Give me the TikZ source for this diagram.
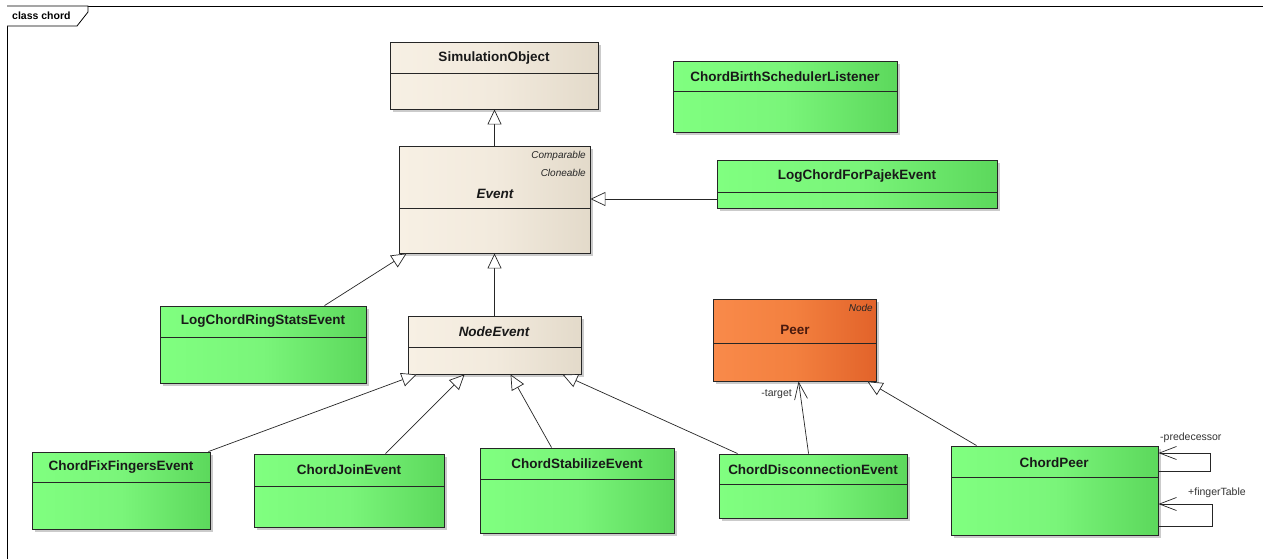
\documentclass[tikz,border=0pt]{standalone}
\usepackage{fontspec}
\setmainfont{Liberation Sans}
\usetikzlibrary{arrows.meta,shadows}
\definecolor{gL}{HTML}{80FF80}
\definecolor{gM}{HTML}{7AF57A}
\definecolor{gR}{HTML}{5CD85C}
\definecolor{bL}{HTML}{F7F0E4}
\definecolor{bM}{HTML}{F2EADD}
\definecolor{bR}{HTML}{E3DACA}
\definecolor{oL}{HTML}{F98A4A}
\definecolor{oM}{HTML}{F3803F}
\definecolor{oR}{HTML}{E2632A}
\definecolor{edge}{HTML}{262626}
\definecolor{peertext}{HTML}{4A1A0E}
\tikzset{
  classbox/.style={draw=edge, line width=0.9pt, inner sep=0pt,
    drop shadow={shadow xshift=3pt, shadow yshift=-3pt, fill=black!45, opacity=0.45}},
  greenbox/.style={classbox, left color=gL, right color=gR, middle color=gM},
  beigebox/.style={classbox, left color=bL, right color=bR, middle color=bM},
  orangebox/.style={classbox, left color=oL, right color=oR, middle color=oM},
  sepline/.style={draw=edge, line width=0.8pt},
  titletext/.style={font=\fontsize{13.5}{16}\selectfont\bfseries, text=black!90, inner sep=0pt},
  ititletext/.style={font=\fontsize{13.5}{16}\selectfont\bfseries\itshape, text=black!90, inner sep=0pt},
  stereo/.style={font=\fontsize{10}{12}\selectfont\itshape, text=black!85, inner sep=0pt, anchor=east},
  roletext/.style={font=\fontsize{10.5}{12}\selectfont, text=black!80, inner sep=0pt},
  gen/.style={draw=black!85, line width=0.7pt, -{Triangle[length=15pt,width=14pt,fill=white,line width=0.7pt]}},
  assoc/.style={draw=black!85, line width=0.7pt, -{Straight Barb[length=17pt,width=13pt,line width=0.7pt]}},
  frameline/.style={draw=black, line width=1pt},
}
\newcommand{\umlbox}[7]{%
  \node[#7, minimum width={(#4-#2)*1pt}, minimum height={(#5-#3)*1pt}] (#1) at ({(#2+#4)/2},{(#3+#5)/2}) {};
  \draw[sepline] (#2,#6) -- (#4,#6);
}
\begin{document}
\begin{tikzpicture}[x=1pt,y=-1pt]
\useasboundingbox (0,0) rectangle (1263,558);
\fill[white] (0,0) rectangle (1263,558);
% frame
\draw[frameline] (7,560) -- (7,6) -- (1265,6);
\draw[frameline, line width=0.8pt, fill=white] (7,6) -- (88,6) -- (88,12) -- (77,26) -- (7,26);
\node[font=\fontsize{10.5}{12}\selectfont\bfseries, anchor=west, inner sep=0pt] (framelabel) at (12,16) {class chord};

% classes
\umlbox{simobj}{390}{42}{598}{109}{73}{beigebox}
\node[titletext] (simobj-t) at (494,58) {SimulationObject};

\umlbox{event}{399}{146}{590}{253}{208}{beigebox}
\node[stereo] (event-s1) at (586,156) {Comparable};
\node[stereo] (event-s2) at (586,173) {Cloneable};
\node[ititletext] (event-t) at (495,194) {Event};

\umlbox{birth}{673}{61}{897}{132}{91}{greenbox}
\node[titletext] (birth-t) at (785,77) {ChordBirthSchedulerListener};

\umlbox{pajek}{717}{160}{997}{208}{192}{greenbox}
\node[titletext] (pajek-t) at (857,176) {LogChordForPajekEvent};

\umlbox{ringstats}{160}{306}{366}{383}{337}{greenbox}
\node[titletext] (ringstats-t) at (263,321) {LogChordRingStatsEvent};

\umlbox{nodeevent}{408}{316}{581}{374}{347}{beigebox}
\node[ititletext] (nodeevent-t) at (494,332) {NodeEvent};

\umlbox{peer}{713}{299}{876}{381}{343}{orangebox}
\node[stereo, text=black!85] (peer-s) at (873,308) {Node};
\node[titletext, text=peertext] (peer-t) at (795,330) {Peer};

\umlbox{fixfingers}{32}{452}{210}{529}{482}{greenbox}
\node[titletext] (fixfingers-t) at (121,467) {ChordFixFingersEvent};

\umlbox{join}{254}{454}{444}{527}{486}{greenbox}
\node[titletext] (join-t) at (349,470) {ChordJoinEvent};

\umlbox{stabilize}{480}{448}{674}{533}{479}{greenbox}
\node[titletext] (stabilize-t) at (577,464) {ChordStabilizeEvent};

\umlbox{disconnect}{719}{454}{907}{518}{484}{greenbox}
\node[titletext] (disconnect-t) at (813,470) {ChordDisconnectionEvent};

\umlbox{chordpeer}{951}{446}{1158}{535}{477}{greenbox}
\node[titletext] (chordpeer-t) at (1054,463) {ChordPeer};

% generalizations
\draw[gen] (event.north) -- (event.north |- simobj.south);
\draw[gen] (pajek.west |- 0,199) -- (event.east |- 0,199);
\draw[gen] ([xshift=165pt]ringstats.north west) -- ([xshift=8pt]event.south west);
\draw[gen] (nodeevent.north) -- (nodeevent.north |- event.south);
\draw[gen] ([xshift=-2pt]fixfingers.north east) -- ([xshift=9pt]nodeevent.south west);
\draw[gen] ([xshift=132pt]join.north west) -- ([xshift=57pt]nodeevent.south west);
\draw[gen] ([xshift=72pt]stabilize.north west) -- ([xshift=103pt]nodeevent.south west);
\draw[gen] ([xshift=19pt]disconnect.north west) -- ([xshift=155pt]nodeevent.south west);
\draw[gen] ([xshift=26pt]chordpeer.north west) -- ([xshift=-9pt]peer.south east);

% associations
\draw[assoc] ([xshift=90pt]disconnect.north west) -- ([xshift=86pt]peer.south west);
\node[roletext, anchor=east] (target-l) at (792,394) {-target};

\draw[assoc] (chordpeer.east |- 0,471) -- ++(52,0) -- ++(0,-18) -- (chordpeer.east |- 0,453);
\node[roletext, anchor=west] (pred-l) at (1160,438) {-predecessor};

\draw[assoc] (chordpeer.east |- 0,526) -- ++(54,0) -- ++(0,-22) -- (chordpeer.east |- 0,504);
\node[roletext, anchor=west] (finger-l) at (1188,493) {+fingerTable};
\end{tikzpicture}
\end{document}
